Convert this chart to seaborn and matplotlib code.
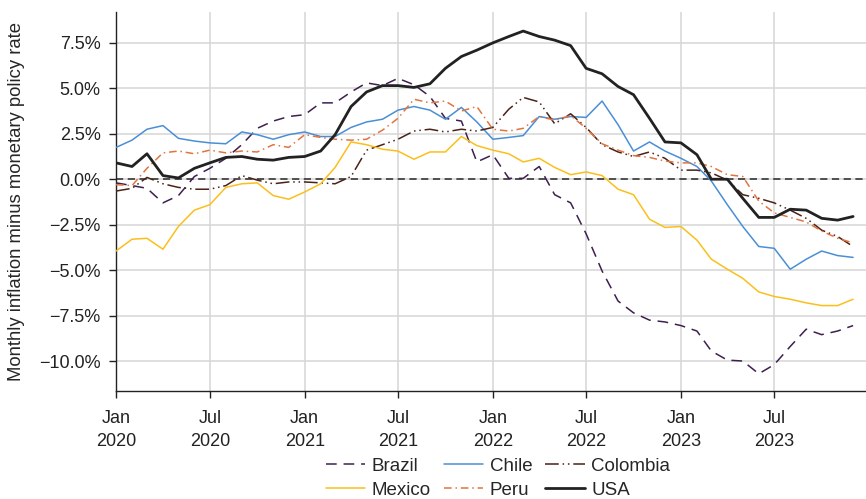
import numpy as np
import pandas as pd
import matplotlib
matplotlib.use("Agg")
import matplotlib.pyplot as plt
import matplotlib.ticker as mticker
import seaborn as sns

# Monthly inflation minus monetary policy rate (percentage points), Jan 2020 - Dec 2023
months = pd.date_range("2020-01-01", periods=48, freq="MS")

brazil = [-0.2, -0.35, -0.5, -1.3, -0.9, 0.15, 0.6, 1.15, 1.9, 2.8, 3.2, 3.45,
          3.55, 4.2, 4.2, 4.8, 5.3, 5.15, 5.55, 5.2, 4.55, 3.35, 3.2, 0.95,
          1.35, 0.05, 0.05, 0.7, -0.85, -1.3, -3.0, -5.05, -6.7, -7.35, -7.75, -7.85,
          -8.05, -8.35, -9.45, -9.95, -10.0, -10.7, -10.2, -9.2, -8.25, -8.55, -8.35, -8.05]
chile = [1.75, 2.15, 2.75, 2.95, 2.25, 2.1, 2.0, 1.95, 2.6, 2.45, 2.2, 2.45,
         2.6, 2.35, 2.35, 2.85, 3.15, 3.3, 3.8, 4.0, 3.8, 3.3, 3.95, 3.15,
         2.2, 2.3, 2.4, 3.45, 3.3, 3.45, 3.4, 4.3, 3.0, 1.55, 2.05, 1.55,
         1.15, 0.7, -0.1, -1.4, -2.6, -3.7, -3.8, -4.95, -4.4, -3.95, -4.2, -4.3]
colombia = [-0.65, -0.5, 0.1, -0.25, -0.45, -0.55, -0.55, -0.35, 0.2, -0.05, -0.25, -0.15,
            -0.15, -0.2, -0.25, 0.15, 1.6, 1.9, 2.2, 2.65, 2.75, 2.6, 2.75, 2.65,
            2.85, 3.85, 4.5, 4.25, 3.05, 3.6, 2.85, 1.9, 1.5, 1.25, 1.5, 1.15,
            0.5, 0.5, 0.35, -0.05, -0.85, -1.05, -1.3, -1.7, -2.15, -2.8, -3.15, -3.7]
mexico = [-3.95, -3.3, -3.25, -3.85, -2.6, -1.7, -1.4, -0.45, -0.25, -0.2, -0.9, -1.1,
          -0.7, -0.25, 0.65, 2.05, 1.9, 1.65, 1.55, 1.1, 1.5, 1.5, 2.35, 1.85,
          1.6, 1.4, 0.95, 1.15, 0.65, 0.25, 0.4, 0.2, -0.55, -0.85, -2.2, -2.65,
          -2.6, -3.35, -4.4, -4.95, -5.45, -6.2, -6.45, -6.6, -6.8, -6.95, -6.95, -6.6]
peru = [-0.3, -0.35, 0.6, 1.45, 1.55, 1.4, 1.6, 1.45, 1.55, 1.5, 1.9, 1.75,
        2.45, 2.3, 2.2, 2.15, 2.2, 2.7, 3.35, 4.4, 4.2, 4.3, 3.75, 4.0,
        2.75, 2.65, 2.8, 3.45, 3.25, 3.5, 2.8, 1.95, 1.6, 1.3, 1.2, 1.0,
        0.9, 0.9, 0.7, 0.25, 0.15, -1.2, -1.85, -2.1, -2.35, -2.85, -3.25, -3.5]
usa = [0.9, 0.7, 1.4, 0.2, 0.07, 0.6, 0.9, 1.2, 1.25, 1.1, 1.05, 1.2,
       1.25, 1.55, 2.45, 4.0, 4.8, 5.15, 5.15, 5.05, 5.25, 6.1, 6.75, 7.1,
       7.5, 7.85, 8.15, 7.85, 7.65, 7.35, 6.1, 5.8, 5.1, 4.65, 3.35, 2.05,
       2.0, 1.35, 0.0, 0.0, -1.05, -2.1, -2.1, -1.65, -1.7, -2.15, -2.25, -2.05]

countries = ["Brazil", "Chile", "Colombia", "Mexico", "Peru", "USA"]
df = pd.DataFrame({"date": months, "Brazil": brazil, "Chile": chile,
                   "Colombia": colombia, "Mexico": mexico, "Peru": peru, "USA": usa})

styles = {
    "Brazil":   dict(color="#3d1f4f", lw=1.1, ls=(0, (7, 4.5))),
    "Chile":    dict(color="#4a8fd6", lw=1.1, ls="-"),
    "Colombia": dict(color="#4a2217", lw=1.1, ls=(0, (9, 2.5, 1, 2.5, 1, 2.5))),
    "Mexico":   dict(color="#fbbf1c", lw=1.1, ls="-"),
    "Peru":     dict(color="#e2743f", lw=1.1, ls=(0, (5, 2.5, 1, 2.5))),
    "USA":      dict(color="#222222", lw=2.0, ls="-"),
}

sns.set_theme(style="white")
plt.rcParams["font.family"] = ["Liberation Sans", "DejaVu Sans"]
plt.rcParams["axes.unicode_minus"] = True

fig = plt.figure(figsize=(8.66, 4.99), dpi=100)
ax = fig.add_axes([0.134, 0.2164, 0.866, 0.7596])

ax.grid(True, color="#d6d6d6", lw=1.1, zorder=0)
ax.axhline(0, color="#444444", lw=1.3, ls=(0, (4, 2.5)), zorder=1)

handles = {}
for c in countries:
    st = styles[c]
    sns.lineplot(data=df, x="date", y=c, ax=ax, color=st["color"],
                 linewidth=st["lw"], linestyle=st["ls"], label=c, zorder=3)
    handles[c] = ax.get_lines()[-1]

ax.set_ylim(-11.65, 9.2)
ax.set_yticks([-10, -7.5, -5, -2.5, 0, 2.5, 5, 7.5])
ax.yaxis.set_major_formatter(mticker.FuncFormatter(
    lambda v, p: f"{v:.1f}%".replace("-", "\u2212")))

start = pd.Timestamp("2020-01-01")
end = start + pd.Timedelta(days=47.8 * 30.44)
ax.set_xlim(start, end)
xt = pd.date_range("2020-01-01", "2023-07-01", freq="6MS")
ax.set_xticks(xt)
ax.set_xticklabels([f"{d.strftime('%b')}\n{d.year}" for d in xt], linespacing=1.4)

ax.set_xlabel("")
ax.set_ylabel("Monthly inflation minus monetary policy rate", fontsize=13.3)
ax.yaxis.set_label_coords(-0.121, 0.5)

for s in ["top", "right"]:
    ax.spines[s].set_visible(False)
for s in ["left", "bottom"]:
    ax.spines[s].set_color("#222222")
    ax.spines[s].set_linewidth(1.0)
ax.tick_params(axis="both", which="major", direction="out", length=5, width=1,
               color="#222222", labelsize=13, labelcolor="#222222", pad=6)
ax.tick_params(axis="x", pad=9)
ax.tick_params(axis="both", bottom=True, left=True)

ax.get_legend().remove()
order = ["Brazil", "Mexico", "Chile", "Peru", "Colombia", "USA"]
fig.legend([handles[c] for c in order], order, loc="upper center",
           bbox_to_anchor=(0.575, 0.083), ncol=3, frameon=False, fontsize=13.5,
           handlelength=2.1, handletextpad=0.35, columnspacing=0.7,
           labelspacing=0.38, borderaxespad=0, borderpad=0)

fig.savefig("out.png", dpi=100)
